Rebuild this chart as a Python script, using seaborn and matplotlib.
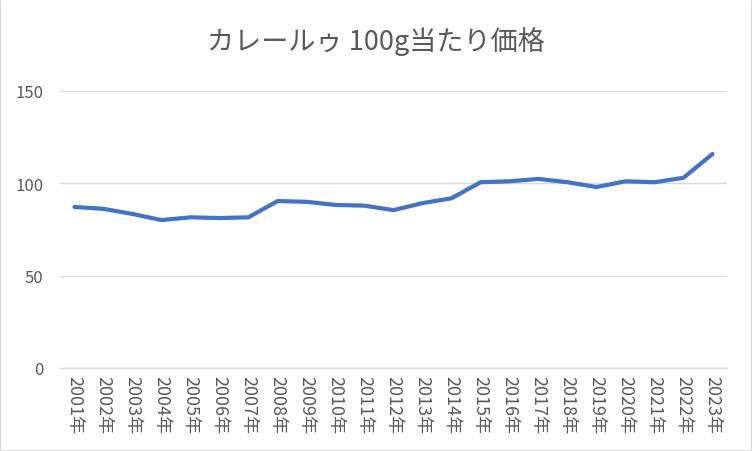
import seaborn as sns
import matplotlib.pyplot as plt
import pandas as pd
from matplotlib.patches import Rectangle

sns.set_theme(style="white")
plt.rcParams['font.family'] = ['Noto Sans CJK JP', 'DejaVu Sans']

years = [f"{y}年" for y in range(2001, 2024)]
price = [87.2, 86.2, 83.4, 80.1, 81.6, 81.2, 81.6, 90.4, 90.0, 88.3, 87.9, 85.5,
         89.3, 91.9, 100.6, 101.1, 102.4, 100.6, 98.0, 101.1, 100.6, 103.0, 115.9]

df = pd.DataFrame({"year": years, "price": price})
grey = "#595959"

fig = plt.figure(figsize=(7.52, 4.52), dpi=100)
ax = fig.add_axes([60 / 752, 83 / 452, 667 / 752, 277 / 452])

ax.set_ylim(0, 150)
ax.set_yticks([0, 50, 100, 150])
ax.set_xlim(-0.5, len(years) - 0.5)
ax.grid(axis="y", color="#d9d9d9", lw=1)
ax.set_axisbelow(True)

sns.lineplot(x="year", y="price", data=df, ax=ax, color="#4472C4", lw=3,
             sort=False, solid_capstyle="round", solid_joinstyle="round")

for s in ["top", "right", "left"]:
    ax.spines[s].set_visible(False)
ax.spines["bottom"].set_color("#d9d9d9")
ax.spines["bottom"].set_linewidth(1)

ax.tick_params(axis="both", length=0, labelcolor=grey)
ax.tick_params(axis="y", pad=12, labelsize=12)
ax.tick_params(axis="x", pad=5, labelsize=13)
for lbl in ax.get_xticklabels():
    lbl.set_rotation(270)
    lbl.set_va("top")
    lbl.set_ha("center")
ax.set(xlabel="", ylabel="")

fig.text(0.5, 1 - 42 / 452, "カレールゥ 100g当たり価格", ha="center", va="center",
         fontsize=19.5, color=grey)

fig.patches.append(Rectangle((0, 0), 1, 1, transform=fig.transFigure, fill=False,
                             edgecolor="#d9d9d9", lw=1.5))

fig.savefig("out.png", dpi=100, facecolor="white")
